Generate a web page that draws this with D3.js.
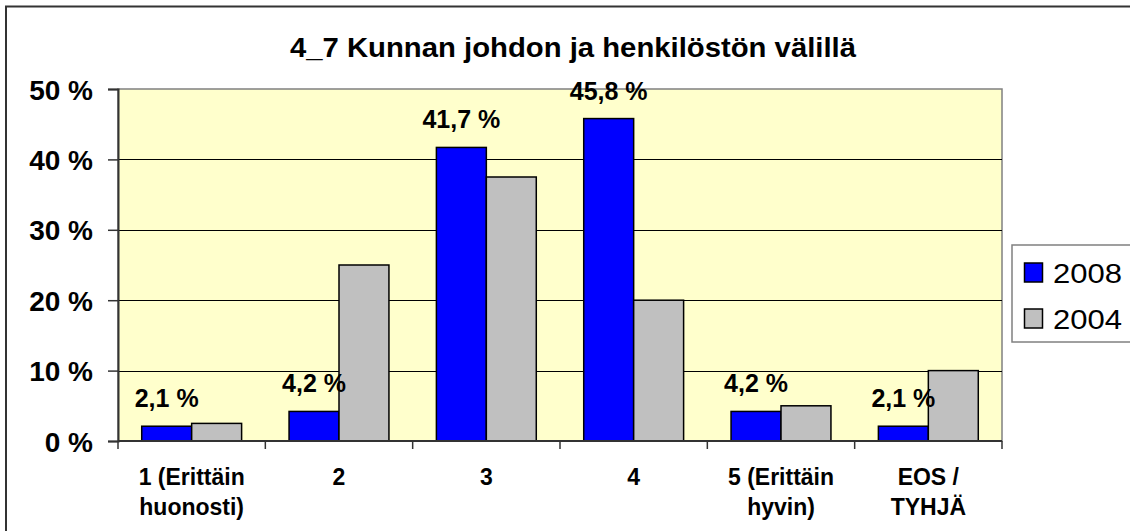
<!DOCTYPE html>
<html>
<head>
<meta charset="utf-8">
<script src="https://cdn.jsdelivr.net/npm/d3@7"></script>
<style>
  html, body { margin: 0; padding: 0; background: #fff; }
  svg { display: block; font-family: Arial, "Liberation Sans", sans-serif; }
</style>
</head>
<body>
<svg id="chart" width="1130" height="531"></svg>
<script>
const title = "4_7 Kunnan johdon ja henkilöstön välillä";
const categories = ["1 (Erittäin\nhuonosti)", "2", "3", "4", "5 (Erittäin\nhyvin)", "EOS /\nTYHJÄ"];
const seriesNames = ["2008", "2004"];
const values2008 = [2.1, 4.2, 41.7, 45.8, 4.2, 2.1];
const values2004 = [2.5, 25.0, 37.5, 20.0, 5.0, 10.0];
const dataLabels2008 = ["2,1 %", "4,2 %", "41,7 %", "45,8 %", "4,2 %", "2,1 %"];
const yTicks = [0, 10, 20, 30, 40, 50];
const colors = ["#0000FF", "#C0C0C0"];

const svg = d3.select("#chart");
const plot = { left: 118, top: 89, right: 1002, bottom: 441 };

// outer frame
svg.append("rect").attr("x", 6).attr("y", 6.5).attr("width", 1140).attr("height", 540)
  .attr("fill", "#fff").attr("stroke", "#333").attr("stroke-width", 2);

const x0 = d3.scaleBand().domain(categories).range([plot.left, plot.right]).padding(0);
const step = x0.step();
const x1 = d3.scaleBand().domain(seriesNames).range([step * 0.161, step * 0.839]).padding(0);
const y = d3.scaleLinear().domain([0, 50]).range([plot.bottom, plot.top]);

// plot background
svg.append("rect").attr("x", plot.left).attr("y", plot.top)
  .attr("width", plot.right - plot.left).attr("height", plot.bottom - plot.top)
  .attr("fill", "#FFFFCC").attr("stroke", "#808080").attr("stroke-width", 1.5);

// gridlines
svg.append("g").selectAll("line").data(yTicks.filter(t => t > 0 && t < 50)).join("line")
  .attr("x1", plot.left).attr("x2", plot.right)
  .attr("y1", d => Math.round(y(d)) + 0.5).attr("y2", d => Math.round(y(d)) + 0.5)
  .attr("stroke", "#000").attr("stroke-width", 1);

// bars
const series = [values2008, values2004];
const g = svg.append("g");
categories.forEach((c, i) => {
  seriesNames.forEach((s, j) => {
    const v = series[j][i];
    g.append("rect")
      .attr("x", x0(c) + x1(s))
      .attr("y", y(v))
      .attr("width", x1.bandwidth())
      .attr("height", y(0) - y(v))
      .attr("fill", colors[j]).attr("stroke", "#000").attr("stroke-width", 1.5);
  });
});

// y axis
const yAxis = d3.axisLeft(y).tickValues(yTicks).tickSize(10).tickFormat(d => d + " %").tickPadding(15);
const ya = svg.append("g").attr("transform", `translate(${plot.left},0)`).call(yAxis);
ya.select(".domain").attr("stroke", "#333").attr("stroke-width", 2);
ya.selectAll(".tick line").attr("stroke", "#333").attr("stroke-width", 1.5);
ya.selectAll(".tick text").attr("font-size", 28).attr("font-weight", "bold").attr("fill", "#000")
  .attr("dy", "0.36em");

// x axis
const xa = svg.append("g").attr("transform", `translate(0,${plot.bottom})`);
xa.append("line").attr("x1", plot.left).attr("x2", plot.right).attr("y1", 0).attr("y2", 0)
  .attr("stroke", "#333").attr("stroke-width", 2);
const boundaries = categories.map(c => x0(c)).concat([plot.right]);
xa.selectAll("line.tk").data(boundaries).join("line").attr("class", "tk")
  .attr("x1", d => d).attr("x2", d => d).attr("y1", 0).attr("y2", 8)
  .attr("stroke", "#333").attr("stroke-width", 1.5);
categories.forEach(c => {
  const lines = c.split("\n");
  const t = xa.append("text").attr("text-anchor", "middle")
    .attr("font-size", 23).attr("font-weight", "bold").attr("fill", "#000");
  lines.forEach((ln, k) => {
    t.append("tspan").attr("x", x0(c) + step / 2).attr("y", 44 + k * 30).text(ln);
  });
});

// data labels
categories.forEach((c, i) => {
  svg.append("text")
    .attr("x", x0(c) + x1("2008") + x1.bandwidth() / 2)
    .attr("y", y(values2008[i]) - 19)
    .attr("text-anchor", "middle")
    .attr("font-size", 25).attr("font-weight", "bold").attr("fill", "#000")
    .text(dataLabels2008[i]);
});

// title
svg.append("text").attr("x", 573).attr("y", 57).attr("text-anchor", "middle")
  .attr("font-size", 27).attr("font-weight", "bold").attr("fill", "#000")
  .attr("textLength", 566).attr("lengthAdjust", "spacingAndGlyphs").text(title);

// legend
const lg = svg.append("g");
lg.append("rect").attr("x", 1012).attr("y", 245).attr("width", 140).attr("height", 97)
  .attr("fill", "#fff").attr("stroke", "#808080").attr("stroke-width", 1.5);
seriesNames.forEach((s, j) => {
  const cy = 272.5 + j * 46;
  lg.append("rect").attr("x", 1024.5).attr("y", cy - 9.5).attr("width", 18).attr("height", 19)
    .attr("fill", colors[j]).attr("stroke", "#000").attr("stroke-width", 1.5);
  lg.append("text").attr("x", 1053).attr("y", cy + 10).attr("font-size", 28)
    .attr("fill", "#000").attr("textLength", 69).attr("lengthAdjust", "spacingAndGlyphs").text(s);
});
</script>
</body>
</html>
